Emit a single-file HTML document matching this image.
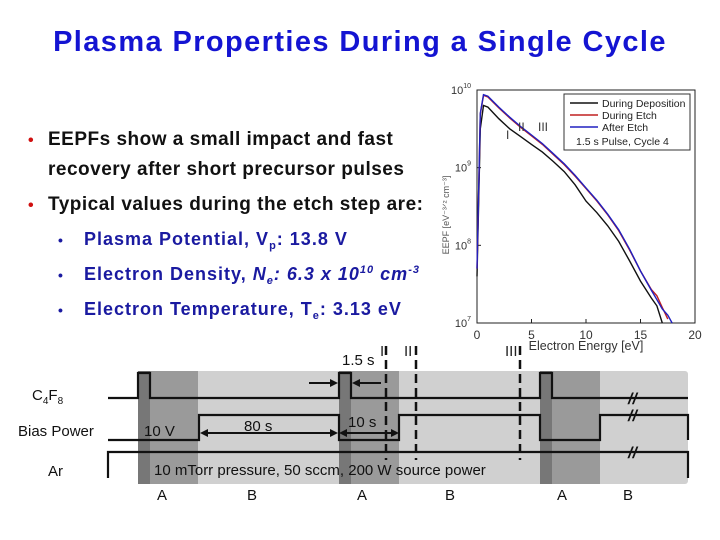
<!DOCTYPE html>
<html><head><meta charset="utf-8"><style>
body{margin:0;width:720px;height:540px;background:#fff;overflow:hidden;font-family:"Liberation Sans",Arial,sans-serif}
svg{position:absolute;left:0;top:0}
</style></head><body>
<svg width="720" height="540">
<text x="360" y="51" text-anchor="middle" font-size="29" font-weight="bold" fill="#1414d2" letter-spacing="1.4">Plasma Properties During a Single Cycle</text>
<g font-weight="bold" font-size="19" fill="#111" letter-spacing="0.5">
<text x="28" y="145" fill="#d01010" font-size="16">•</text>
<text x="48" y="145">EEPFs show a small impact and fast</text>
<text x="48" y="175">recovery after short precursor pulses</text>
<text x="28" y="210" fill="#d01010" font-size="16">•</text>
<text x="48" y="210">Typical values during the etch step are:</text>
</g>
<g font-weight="bold" font-size="18" fill="#1a1aa0" letter-spacing="1.0">
<text x="58" y="245" font-size="14">•</text><text x="84" y="245">Plasma Potential, V<tspan font-size="11" dy="4">p</tspan><tspan dy="-4">: 13.8 V</tspan></text>
<text x="58" y="280" font-size="14">•</text><text x="84" y="280">Electron Density, <tspan font-style="italic">N<tspan font-size="11" dy="4">e</tspan><tspan dy="-4">: 6.3 x 10</tspan><tspan font-size="11" dy="-7">10</tspan><tspan dy="7"> cm</tspan><tspan font-size="11" dy="-7">-3</tspan></tspan></text>
<text x="58" y="315" font-size="14">•</text><text x="84" y="315">Electron Temperature, T<tspan font-size="11" dy="4">e</tspan><tspan dy="-4">: 3.13 eV</tspan></text>
</g>
<g id="chart"></g>
<g id="timing"></g>
</svg>
<script>
const energies=[0,0.3,0.6,1,2,3,4,5,6,7,8,9,10,11,12,13,14,15,16,16.5,17,17.5,17.9];
const depLog=[7.6,9.5,9.80,9.78,9.63,9.50,9.40,9.30,9.20,9.08,8.95,8.78,8.57,8.42,8.25,8.05,7.80,7.54,7.32,7.22,7.0,null,null];
const etchLog=[7.7,9.69,9.93,9.91,9.77,9.64,9.52,9.41,9.30,9.17,9.04,8.89,8.73,8.57,8.39,8.19,7.94,7.67,7.43,7.35,7.2,7.05,null];
const afterLog=[7.7,9.7,9.94,9.92,9.78,9.65,9.53,9.42,9.31,9.18,9.05,8.90,8.74,8.58,8.40,8.20,7.95,7.67,7.42,7.30,7.18,7.10,7.0];
const xTicks=[0,5,10,15,20];
const yTicks=[7,8,9,10];
const seriesNames=["During Deposition","During Etch","After Etch"];
const NS="http://www.w3.org/2000/svg";
function mk(p,t,a,txt){const e=document.createElementNS(NS,t);for(const k in a)e.setAttribute(k,a[k]);if(txt!==undefined)e.textContent=txt;p.appendChild(e);return e;}
const X0=477,X1=695,Y0=323,Y1=90;
const xs=v=>X0+(v-0)/20*(X1-X0);
const ys=v=>Y0-(v-7)/3*(Y0-Y1);
const ch=document.getElementById('chart');
let fr=mk(ch,'rect',{x:X0,y:Y1,width:X1-X0,height:Y0-Y1,fill:'none',stroke:'#222','stroke-width':1});


xTicks.forEach(t=>{
 mk(ch,'line',{x1:xs(t),x2:xs(t),y1:Y0,y2:Y0-4,stroke:'#222'});
 let tx=mk(ch,'text',{x:xs(t),y:Y0+16,'text-anchor':'middle','font-size':12,fill:'#333'},String(t));
 
 
});
yTicks.forEach(t=>{
 mk(ch,'line',{x1:X0,x2:X0+4,y1:ys(t),y2:ys(t),stroke:'#222'});
 let tx=mk(ch,'text',{x:X0-6,y:ys(t)+4,'text-anchor':'end','font-size':11,fill:'#333'});
 
 
 mk(tx,'tspan',{},'10');mk(tx,'tspan',{dy:-6,'font-size':7},String(t));
});
let xl=mk(ch,'text',{x:586,y:350,'text-anchor':'middle','font-size':12.5,fill:'#333'},'Electron Energy [eV]');


let yl=mk(ch,'text',{x:449,y:215,'text-anchor':'middle','font-size':9,fill:'#555',transform:'rotate(-90 449 215)'},'EEPF [eV⁻³ᐟ² cm⁻³]');


const cols=['#111','#c02020','#2020c0'];
[depLog,etchLog,afterLog].forEach((arr,i)=>{
 let d='';arr.forEach((v,j)=>{if(v===null)return;d+=(d?'L':'M')+xs(energies[j]).toFixed(1)+','+ys(v).toFixed(1);});
 let p=mk(ch,'path',{d:d,fill:'none',stroke:cols[i],'stroke-width':1.4});
 
 
});
const lg=mk(ch,'g',{});


mk(lg,'rect',{x:564,y:94,width:126,height:56,fill:'#fff',stroke:'#333'});
seriesNames.forEach((n,i)=>{
 mk(lg,'line',{x1:570,x2:598,y1:103+i*12,y2:103+i*12,stroke:cols[i],'stroke-width':1.4});
 let t=mk(lg,'text',{x:602,y:107+i*12,'font-size':10.5,fill:'#222'},n);
 
 
});
mk(lg,'text',{x:576,y:145,'font-size':10.5,fill:'#222'},'1.5 s Pulse, Cycle 4');
[['I',506,139],['II',518,131],['III',538,131]].forEach(a=>mk(ch,'text',{x:a[1],y:a[2],'font-size':12,fill:'#333'},a[0]));

const tg=document.getElementById('timing');
const bandsA=[138,339,540],bandW=60;
mk(tg,'rect',{x:138,y:371,width:550,height:113,fill:'#d0d0d0',rx:3});
bandsA.forEach(x=>{mk(tg,'rect',{x:x,y:371,width:bandW,height:113,fill:'#9a9a9a'});mk(tg,'rect',{x:x,y:371,width:12,height:113,fill:'#777'});});
const L={fill:'none',stroke:'#111','stroke-width':2.2};
let c=mk(tg,'path',Object.assign({d:'M108,398H138V373H150V398H339V373H351V398H540V373H552V398H688'},L));

let b=mk(tg,'path',Object.assign({d:'M108,440H199V415H339V440H399V415H540V440H600V415H688V440'},L));

let a=mk(tg,'path',Object.assign({d:'M108,478V452H688V478'},L));

[386,416,520].forEach(x=>mk(tg,'line',{x1:x,x2:x,y1:346,y2:460,stroke:'#111','stroke-width':2.5,'stroke-dasharray':'9,5'}));
[['I',380,356],['II',404,356],['III',505,356]].forEach(t=>mk(tg,'text',{x:t[1],y:t[2],'font-size':15,fill:'#222'},t[0]));
[398,415,452].forEach(y=>{mk(tg,'text',{x:628,y:y+6,'font-size':16,'font-weight':'bold',fill:'#111','font-style':'italic'},'//');});
const T={'font-size':15,fill:'#111'};
let c4=mk(tg,'text',Object.assign({x:32,y:400},T));mk(c4,'tspan',{},'C');mk(c4,'tspan',{'font-size':10,dy:4},'4');mk(c4,'tspan',{dy:-4},'F');mk(c4,'tspan',{'font-size':10,dy:4},'8');
mk(tg,'text',Object.assign({x:18,y:436},T),'Bias Power');
mk(tg,'text',Object.assign({x:48,y:476},T),'Ar');
mk(tg,'text',Object.assign({x:144,y:436},T),'10 V');
mk(tg,'text',Object.assign({x:244,y:431},T),'80 s');
mk(tg,'text',Object.assign({x:348,y:427},T),'10 s');
mk(tg,'text',Object.assign({x:342,y:365},T),'1.5 s');
mk(tg,'text',Object.assign({x:154,y:475},T),'10 mTorr pressure, 50 sccm, 200 W source power');
[['A',162],['B',252],['A',362],['B',450],['A',562],['B',628]].forEach(t=>mk(tg,'text',Object.assign({x:t[1],y:500,'text-anchor':'middle'},T),t[0]));
const AR={stroke:'#111','stroke-width':2};
mk(tg,'line',Object.assign({x1:203,x2:335,y1:433,y2:433},AR));
mk(tg,'path',{d:'M200,433l8,-4v8z M338,433l-8,-4v8z',fill:'#111'});
mk(tg,'line',Object.assign({x1:342,x2:396,y1:433,y2:433},AR));
mk(tg,'path',{d:'M339,433l8,-4v8z M399,433l-8,-4v8z',fill:'#111'});
mk(tg,'line',Object.assign({x1:309,x2:333,y1:383,y2:383},AR));
mk(tg,'path',{d:'M338,383l-8,-4v8z',fill:'#111'});
mk(tg,'line',Object.assign({x1:358,x2:381,y1:383,y2:383},AR));
mk(tg,'path',{d:'M352,383l8,-4v8z',fill:'#111'});
</script>
</body></html>
